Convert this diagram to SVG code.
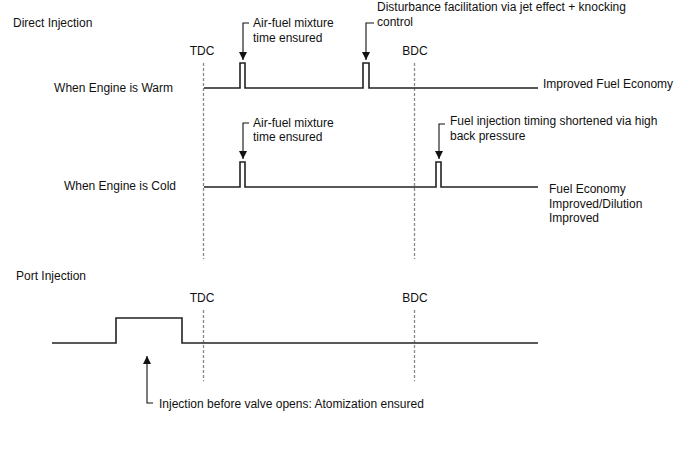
<svg xmlns="http://www.w3.org/2000/svg" width="688" height="463" viewBox="0 0 688 463">
<defs>
<marker id="ah" viewBox="0 0 8 10" refX="8" refY="5" markerWidth="8" markerHeight="10" markerUnits="userSpaceOnUse" orient="auto">
<path d="M0,1 L8,5 L0,9 Z" fill="#111"/>
</marker>
</defs>
<style>
text{font-family:"Liberation Sans",Arial,sans-serif;font-size:12px;fill:#111}
.wave{fill:none;stroke:#222;stroke-width:1.6}
.dash{stroke:#888;stroke-width:1.3;stroke-dasharray:3,2;fill:none}
.arr{fill:none;stroke:#111;stroke-width:1.1}
</style>
<rect width="688" height="463" fill="#fff"/>
<text x="13" y="27">Direct Injection</text>
<text x="16" y="280">Port Injection</text>
<g id="markers">
<line class="dash" x1="203.5" y1="63" x2="203.5" y2="259"/>
<line class="dash" x1="414.5" y1="63" x2="414.5" y2="259"/>
<text x="202" y="55" text-anchor="middle">TDC</text>
<text x="415" y="55" text-anchor="middle">BDC</text>
<line class="dash" x1="203.5" y1="310" x2="203.5" y2="381"/>
<line class="dash" x1="414.5" y1="310" x2="414.5" y2="381"/>
<text x="202" y="302" text-anchor="middle">TDC</text>
<text x="415" y="302" text-anchor="middle">BDC</text>
</g>
<g id="warm">
<text x="173" y="92" text-anchor="end">When Engine is Warm</text>
<path class="wave" d="M204,88 H240 V63 H245 V88 H363 V63 H369 V88 H538"/>
<text x="543" y="88">Improved Fuel Economy</text>
</g>
<g id="cold">
<text x="176" y="190" text-anchor="end">When Engine is Cold</text>
<path class="wave" d="M204,187 H240 V162 H245 V187 H436 V162 H441 V187 H538"/>
<text x="549" y="193">Fuel Economy</text>
<text x="549" y="208">Improved/Dilution</text>
<text x="549" y="222">Improved</text>
</g>
<g id="port">
<path class="wave" d="M52,343 H116 V318 H182 V343 H538"/>
</g>
<g id="connectors">
<path class="arr" d="M249,23 H243 V60" marker-end="url(#ah)"/>
<path class="arr" d="M374,23 H366 V60" marker-end="url(#ah)"/>
<path class="arr" d="M249,123 H243 V159" marker-end="url(#ah)"/>
<path class="arr" d="M445,124 H439 V159" marker-end="url(#ah)"/>
<path class="arr" d="M153,403 H147 V356" marker-end="url(#ah)"/>
</g>
<g id="labels">
<text x="253" y="27">Air-fuel mixture</text>
<text x="253" y="42">time ensured</text>
<text x="377" y="11">Disturbance facilitation via jet effect + knocking</text>
<text x="377" y="26">control</text>
<text x="253" y="127">Air-fuel mixture</text>
<text x="253" y="141">time ensured</text>
<text x="450" y="125">Fuel injection timing shortened via high</text>
<text x="450" y="140">back pressure</text>
<text x="159" y="408">Injection before valve opens: Atomization ensured</text>
</g>
</svg>
